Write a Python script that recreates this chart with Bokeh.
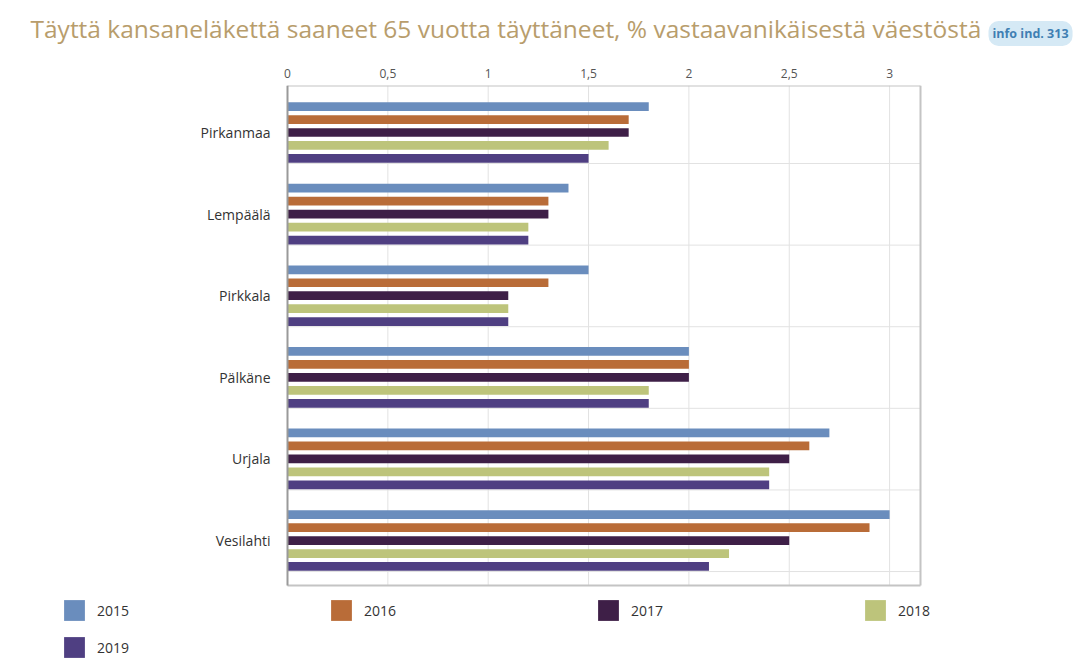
from bokeh.plotting import figure
from bokeh.models import Range1d, FixedTicker, Legend, LegendItem, Label, ColumnDataSource
from bokeh.core.properties import value
from bokeh.embed import file_html
from bokeh.resources import INLINE

# ---- data ----
categories = ["Pirkanmaa", "Lempäälä", "Pirkkala", "Pälkäne", "Urjala", "Vesilahti"]
years = ["2015", "2016", "2017", "2018", "2019"]
v2015 = [1.8, 1.4, 1.5, 2.0, 2.7, 3.0]
v2016 = [1.7, 1.3, 1.3, 2.0, 2.6, 2.9]
v2017 = [1.7, 1.3, 1.1, 2.0, 2.5, 2.5]
v2018 = [1.6, 1.2, 1.1, 1.8, 2.4, 2.2]
v2019 = [1.5, 1.2, 1.1, 1.8, 2.4, 2.1]
x_ticks = [0, 0.5, 1, 1.5, 2, 2.5, 3]
x_tick_labels = ["0", "0,5", "1", "1,5", "2", "2,5", "3"]
title_text = "Täyttä kansaneläkettä saaneet 65 vuotta täyttäneet, % vastaavanikäisestä väestöstä"
badge_text = "info ind. 313"

series = [v2015, v2016, v2017, v2018, v2019]
colors = ["#6a8dbd", "#b96c38", "#3e1f47", "#bdc47b", "#4f3f82"]

FONT = "Open Sans"

n = len(categories)
positions = [n - 1 - i for i in range(n)]
step = 0.159
bar_h = 0.107

# chart box (axis extent) and the wider frame that also holds the legend
X_MAX = 3.154
Y_MIN, Y_MAX = -0.551, 5.576
PX_PER_X = 633 / X_MAX
X_START = -226 / PX_PER_X
X_END = 713 / PX_PER_X
Y_START = Y_MIN - 79 / (500 / (Y_MAX - Y_MIN))

p = figure(frame_width=939, frame_height=579, output_backend="svg", toolbar_location=None,
           x_range=Range1d(X_START, X_END), y_range=Range1d(Y_START, Y_MAX),
           x_axis_location="above",
           min_border_left=61, min_border_right=81,
           min_border_top=85, min_border_bottom=0)

p.background_fill_color = "white"
p.border_fill_color = "white"
p.outline_line_color = None
p.xgrid.visible = False
p.ygrid.visible = False
p.yaxis.visible = False

GRID = "#e2e2e2"
# grid lines inside the chart box
p.segment(x0=x_ticks, x1=x_ticks, y0=[Y_MIN] * len(x_ticks), y1=[Y_MAX] * len(x_ticks),
          line_color=GRID, line_width=1)
grid_y = [pos - 0.38 for pos in positions]
p.segment(x0=[0] * n, x1=[X_MAX] * n, y0=grid_y, y1=grid_y, line_color=GRID, line_width=1)

renderers = []
for j, (yr, vals, col) in enumerate(zip(years, series, colors)):
    ys = [pos + (2 - j) * step for pos in positions]
    src = ColumnDataSource(dict(y=ys, right=vals, cat=categories))
    r = p.hbar(y="y", right="right", left=0, height=bar_h, source=src,
               fill_color=col, line_color=None)
    renderers.append(r)

# chart box edges
BOX = "#c4c4c4"
p.segment(x0=[0, X_MAX, 0], x1=[X_MAX, X_MAX, X_MAX], y0=[Y_MAX, Y_MIN, Y_MIN],
          y1=[Y_MAX, Y_MAX, Y_MIN], line_color=BOX, line_width=2)
p.segment(x0=[0], x1=[0], y0=[Y_MIN], y1=[Y_MAX], line_color="#9a9a9a", line_width=2)

# category labels
p.text(x=[-17 / PX_PER_X] * n, y=positions, text=categories,
       text_align="right", text_baseline="middle",
       text_font=value(FONT), text_font_size="14px", text_color="#333333")

# x axis (above)
p.xaxis.ticker = FixedTicker(ticks=x_ticks)
p.xaxis.major_label_overrides = {t: l for t, l in zip(x_ticks, x_tick_labels)}
p.xaxis.axis_line_color = None
p.xaxis.major_tick_line_color = None
p.xaxis.major_tick_out = 0
p.xaxis.minor_tick_line_color = None
p.xaxis.major_label_text_font = FONT
p.xaxis.major_label_text_font_size = "12px"
p.xaxis.major_label_text_color = "#555555"
p.xaxis.major_label_standoff = 8

# title + badge (side panel, not clipped)
p.add_layout(Label(x=-31, y=37, x_units="screen", y_units="screen",
                   text=title_text, text_font=FONT, text_font_size="24.5px",
                   text_color="#b89d6c", text_baseline="alphabetic"), "above")
p.add_layout(Label(x=927, y=-1, x_units="screen", y_units="screen",
                   text=badge_text, text_font=FONT, text_font_size="12.5px",
                   text_font_style="bold", text_color="#3f7fb3",
                   text_baseline="middle",
                   background_fill_color="#d5e9f5", border_radius=10, padding=4), "above")

# legend (inside the frame, below the chart box)
legend = Legend(items=[LegendItem(label=yr, renderers=[r]) for yr, r in zip(years, renderers)],
                orientation="horizontal", ncols=4,
                location=(0, 4),
                glyph_width=26, glyph_height=26, label_standoff=10,
                label_width=220, spacing=11, padding=0, margin=0,
                border_line_color=None, background_fill_alpha=0,
                label_text_font=FONT, label_text_font_size="14px",
                label_text_color="#333333")
p.add_layout(legend, "center")

open("out.html", "w").write(file_html(p, INLINE))
